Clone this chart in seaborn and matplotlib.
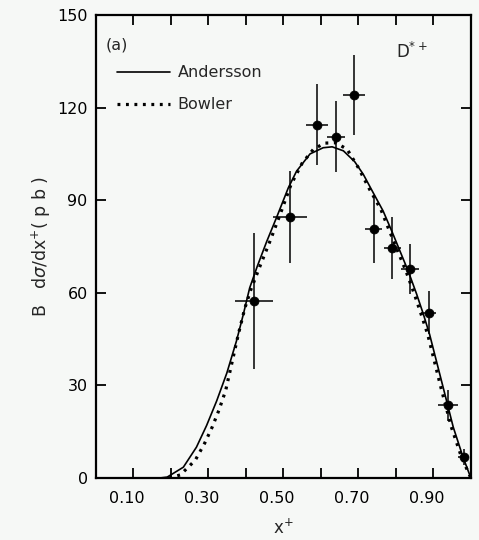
import numpy as np
import pandas as pd
import matplotlib
matplotlib.use("Agg")
import matplotlib.pyplot as plt
from matplotlib.transforms import ScaledTranslation
import seaborn as sns

# Measured D*+ cross section (points with errors)
x_data = [0.421, 0.517, 0.590, 0.640, 0.688, 0.741, 0.790, 0.837, 0.888, 0.939, 0.981]
y_data = [57.4, 84.5, 114.5, 110.6, 124.2, 80.6, 74.5, 67.7, 53.5, 23.5, 6.8]
x_err = [0.050, 0.045, 0.030, 0.025, 0.030, 0.023, 0.023, 0.024, 0.020, 0.027, 0.015]
y_err = [22.0, 15.0, 13.0, 11.5, 13.0, 11.0, 10.0, 8.0, 7.0, 5.0, 2.5]

# Andersson fragmentation prediction
x_andersson = [0.17, 0.19, 0.233, 0.268, 0.295, 0.322, 0.349, 0.375, 0.393, 0.41,
               0.43, 0.455, 0.482, 0.513, 0.535, 0.571, 0.606, 0.63, 0.66, 0.69,
               0.713, 0.74, 0.766, 0.789, 0.811, 0.833, 0.855, 0.873, 0.89, 0.926,
               0.953, 0.979, 1.0]
y_andersson = [0, 0.3, 3.5, 10, 17, 25, 34, 44.5, 53, 61.6,
               68.5, 76.5, 84.5, 94, 99.4, 105, 107, 107.3, 106, 102.5,
               98.4, 92.3, 86.5, 80, 73.5, 67, 59.7, 53.2, 46.5, 29.4,
               16.5, 6.8, 0]

# Bowler fragmentation prediction
x_bowler = [0.195, 0.225, 0.265, 0.29, 0.31, 0.328, 0.346, 0.362, 0.38, 0.397,
            0.413, 0.437, 0.465, 0.49, 0.52, 0.55, 0.58, 0.61, 0.64, 0.67,
            0.70, 0.73, 0.76, 0.783, 0.805, 0.827, 0.849, 0.867, 0.885, 0.92,
            0.948, 0.975, 1.0]
y_bowler = [0, 1, 5.8, 11.3, 16.5, 22, 28.4, 37, 46.7, 55,
            61, 68.5, 77, 85, 95, 102, 106.5, 108.5, 108.6, 106.5,
            100.5, 93.5, 87, 80, 73.5, 67, 59.7, 53.2, 46.5, 29.4,
            16.5, 6.8, 0]

x_major = [0.10, 0.30, 0.50, 0.70, 0.90]
x_minor = [0.20, 0.40, 0.60, 0.80]
y_ticks = [0, 30, 60, 90, 120, 150]

sns.set_style("ticks")
plt.rcParams["font.family"] = ["DejaVu Sans"]

bg = "#f6f8f6"
fig = plt.figure(figsize=(4.79, 5.40), dpi=100, facecolor=bg)
ax = fig.add_axes([0.2004, 0.1148, 0.7826, 0.8574])
ax.set_facecolor(bg)

df_a = pd.DataFrame({"x": x_andersson, "y": y_andersson})
df_b = pd.DataFrame({"x": x_bowler, "y": y_bowler})
df_d = pd.DataFrame({"x": x_data, "y": y_data})

sns.lineplot(data=df_a, x="x", y="y", ax=ax, color="black", lw=1.2,
             estimator=None, label="Andersson")
sns.lineplot(data=df_b, x="x", y="y", ax=ax, color="black", lw=2.3,
             linestyle=(0, (0.9, 1.75)), estimator=None, label="Bowler")
ax.errorbar(x_data, y_data, xerr=x_err, yerr=y_err, fmt="none",
            ecolor="black", elinewidth=1.1, capsize=0)
sns.scatterplot(data=df_d, x="x", y="y", ax=ax, color="black", s=42,
                edgecolor="black", linewidth=0.5, zorder=5)

ax.set_xlim(0, 1.0)
ax.set_ylim(0, 150)
ax.set_xticks(x_major)
ax.set_xticks(x_minor, minor=True)
ax.set_xticklabels([f"{v:.2f}" for v in x_major])
ax.set_yticks(y_ticks)
ax.set_yticklabels([str(v) for v in y_ticks])

ax.tick_params(axis="both", which="both", direction="in", length=7, width=1.3,
               top=True, right=True, labelsize=11.5, colors="black")
ax.tick_params(axis="x", which="major", pad=9)
ax.tick_params(axis="y", which="major", pad=6)
for lbl in ax.get_xticklabels():
    lbl.set_transform(lbl.get_transform() + ScaledTranslation(-0.07, 0, fig.dpi_scale_trans))

for s in ax.spines.values():
    s.set_linewidth(1.6)
    s.set_color("black")

ax.set_xlabel("x$^{+}$", fontsize=12, labelpad=9)
ax.set_ylabel("B   d$\\sigma$/dx$^{+}$( p b )", fontsize=12.5)
ax.yaxis.set_label_coords(-0.115, 0.5)

ax.text(0.025, 0.935, "(a)", transform=ax.transAxes, fontsize=11.5, va="center", ha="left")
ax.text(0.80, 0.92, "D$^{*+}$", transform=ax.transAxes, fontsize=12, va="center", ha="left")

leg = ax.legend(loc="upper left", bbox_to_anchor=(0.056, 0.891), frameon=False,
                fontsize=11.5, handlelength=3.3, handletextpad=0.5,
                labelspacing=1.05, borderaxespad=0, borderpad=0)

fig.savefig("out.png", dpi=100, facecolor=bg)
